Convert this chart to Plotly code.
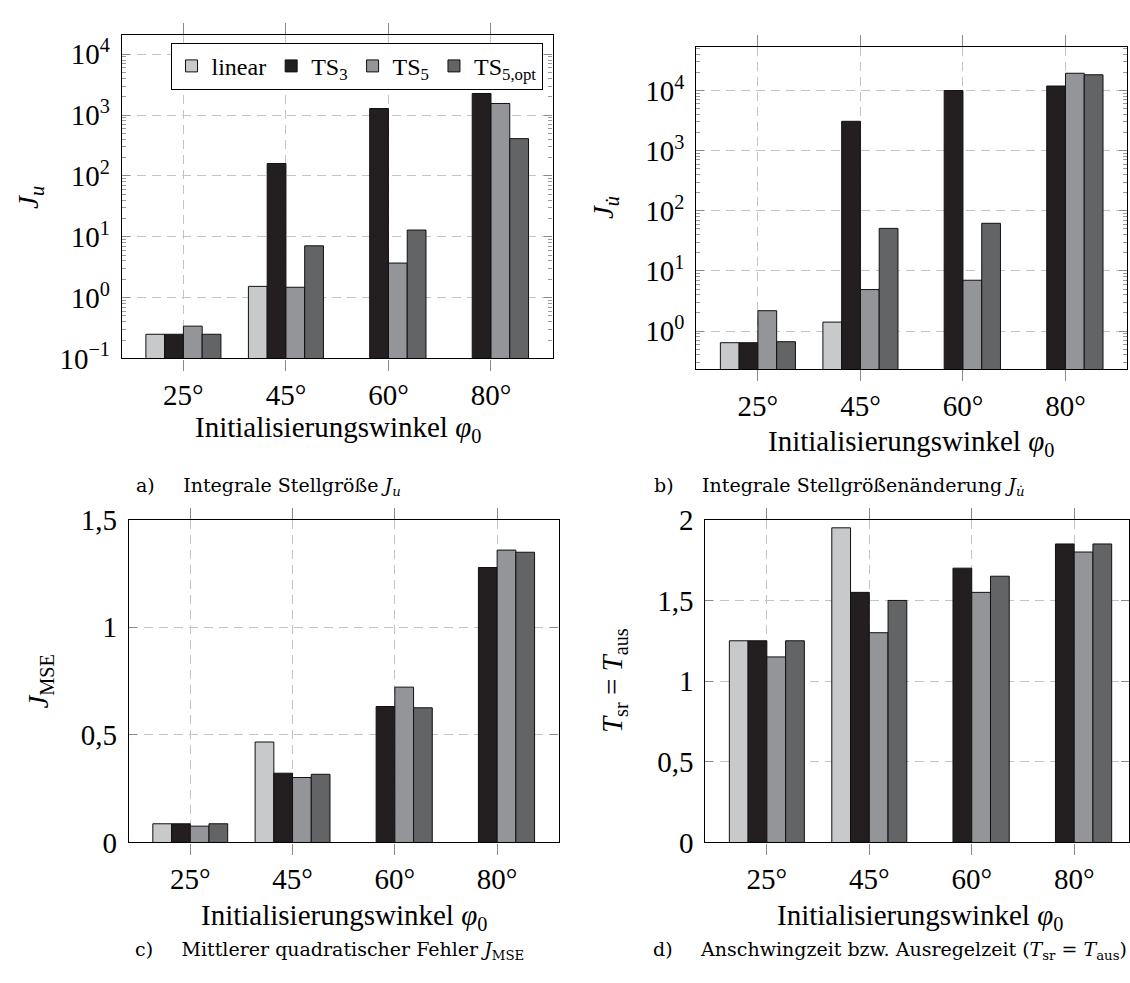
import plotly.graph_objects as go

categories = ["25°", "45°", "60°", "80°"]
series_names = ["linear", "TS<sub>3</sub>", "TS<sub>5</sub>", "TS<sub>5,opt</sub>"]
colors = ["#c8c9cb", "#231f20", "#939598", "#636466"]

# a) Integrale Stellgröße J_u
Ju = [
    [0.25, 1.53, None, None],
    [0.25, 160, 1280, 2260],
    [0.34, 1.48, 3.7, 1550],
    [0.25, 7.1, 12.9, 410],
]
# b) Integrale Stellgrößenänderung J_udot
Judot = [
    [0.64, 1.41, None, None],
    [0.64, 3080, 10000, 11900],
    [2.18, 4.9, 7.0, 19400],
    [0.665, 51, 62, 18300],
]
# c) J_MSE
Jmse = [
    [0.087, 0.467, None, None],
    [0.087, 0.322, 0.632, 1.278],
    [0.076, 0.302, 0.722, 1.359],
    [0.087, 0.317, 0.626, 1.349],
]
# d) T_sr = T_aus
Tsr = [
    [1.25, 1.95, None, None],
    [1.25, 1.55, 1.70, 1.85],
    [1.15, 1.30, 1.55, 1.80],
    [1.25, 1.50, 1.65, 1.85],
]

log_tickvals = [0.1, 1, 10, 100, 1000, 10000]
log_ticktext = ["10<sup>−1</sup>", "10<sup>0</sup>", "10<sup>1</sup>",
                "10<sup>2</sup>", "10<sup>3</sup>", "10<sup>4</sup>"]

W, H = 1130, 983
FONT = "Liberation Serif"
FS = 29

fig = go.Figure()

panels = [
    dict(data=Ju, xa="x", ya="y", legend=True),
    dict(data=Judot, xa="x2", ya="y2", legend=False),
    dict(data=Jmse, xa="x3", ya="y3", legend=False),
    dict(data=Tsr, xa="x4", ya="y4", legend=False),
]
for p in panels:
    for i, name in enumerate(series_names):
        fig.add_trace(go.Bar(
            x=categories, y=p["data"][i], name=name,
            marker=dict(color=colors[i], line=dict(color="#111111", width=1)),
            xaxis=p["xa"], yaxis=p["ya"], showlegend=p["legend"],
        ))

def px(x):
    return x / W

def py(y):
    return 1 - y / H

grid = dict(showgrid=True, gridcolor="#c4c4c4", gridwidth=1, griddash="9px,6px")
xcommon = dict(type="category", showline=True, linecolor="black", linewidth=1.2,
               mirror="allticks", ticks="outside", ticklen=11, tickcolor="#8a8a8a",
               tickwidth=1, tickfont=dict(family=FONT, size=FS, color="black"),
               zeroline=False, **grid)
ycommon = dict(showline=True, linecolor="black", linewidth=1.2, mirror="allticks",
               ticks="inside", ticklen=8, tickcolor="#8a8a8a", tickwidth=1,
               tickfont=dict(family=FONT, size=FS, color="black"), zeroline=False,
               ticklabelstandoff=5, **grid)
minor_log = dict(ticks="inside", ticklen=4, tickcolor="#9a9a9a", dtick="D1", showgrid=False)

fig.update_layout(
    width=W, height=H, margin=dict(l=0, r=0, t=0, b=0),
    paper_bgcolor="white", plot_bgcolor="white",
    separators=",.",
    barmode="group", bargap=0.268, bargroupgap=0,
    font=dict(family=FONT, size=FS, color="black"),
    xaxis=dict(domain=[px(122), px(553)], anchor="y", range=[-0.6, 3.6], **xcommon),
    yaxis=dict(domain=[py(354), py(20)], anchor="x", type="log", range=[-1, 4.31],
               tickvals=log_tickvals, ticktext=log_ticktext, minor=minor_log, **ycommon),
    xaxis2=dict(domain=[px(697), px(1128)], anchor="y2", range=[-0.6, 3.6], **xcommon),
    yaxis2=dict(domain=[py(365), py(31.7)], anchor="x2", type="log", range=[-0.633, 4.73],
                tickvals=log_tickvals, ticktext=log_ticktext, minor=minor_log, **ycommon),
    xaxis3=dict(domain=[px(129), px(559)], anchor="y3", range=[-0.6, 3.6], **xcommon),
    yaxis3=dict(domain=[py(854.3), py(520.7)], anchor="x3", range=[0, 1.5], dtick=0.5, **ycommon),
    xaxis4=dict(domain=[px(706), 1.0], anchor="y4", range=[-0.6, 3.535], **xcommon),
    yaxis4=dict(domain=[py(854.3), py(520.7)], anchor="x4", range=[0, 2], dtick=0.5, **ycommon),
    legend=dict(orientation="h", x=px(543), y=py(27.7), xanchor="right", yanchor="top",
                bgcolor="white", bordercolor="black", borderwidth=1,
                font=dict(family=FONT, size=24, color="black"),
                itemwidth=30, tracegroupgap=0, traceorder="normal"),
)

ann = []
# y-axis titles
ann.append(dict(text="<i>J</i><sub><i>u</i></sub>", x=px(30), y=py(187), textangle=-90))
ann.append(dict(text="<i>J</i><sub><i>u̇</i></sub>", x=px(605), y=py(198), textangle=-90))
ann.append(dict(text="<i>J</i><sub>MSE</sub>", x=px(40), y=py(687), textangle=-90))
ann.append(dict(text="<i>T</i><sub>sr</sub> = <i>T</i><sub>aus</sub>", x=px(614), y=py(687), textangle=-90))
# x-axis titles
xt = "Initialisierungswinkel <i>φ</i><sub>0</sub>"
ann.append(dict(text=xt, x=px(338), y=py(427)))
ann.append(dict(text=xt, x=px(912), y=py(441)))
ann.append(dict(text=xt, x=px(344), y=py(931)))
ann.append(dict(text=xt, x=px(921), y=py(931)))
for a in ann:
    a.update(xref="paper", yref="paper", showarrow=False, xanchor="center", yanchor="middle",
             font=dict(family=FONT, size=FS, color="black"))

CF = "DejaVu Serif"
caps = [
    ("a)\u2003\u2002Integrale Stellgröße <i>J</i><sub><i>u</i></sub>", 134, 486),
    ("b)\u2003\u2002Integrale Stellgrößenänderung <i>J</i><sub><i>u̇</i></sub>", 653, 486),
    ("c)\u2003\u2002Mittlerer quadratischer Fehler <i>J</i><sub>MSE</sub>", 133, 966),
    ("d)\u2003\u2002Anschwingzeit bzw. Ausregelzeit (<i>T</i><sub>sr</sub> = <i>T</i><sub>aus</sub>)", 652, 966),
]
for t, x0, y0 in caps:
    ann.append(dict(text=t, x=px(x0), y=py(y0), xref="paper", yref="paper", showarrow=False,
                    xanchor="left", yanchor="middle",
                    font=dict(family=CF, size=19, color="black")))

fig.update_layout(annotations=ann)
fig.write_html("out.html")
